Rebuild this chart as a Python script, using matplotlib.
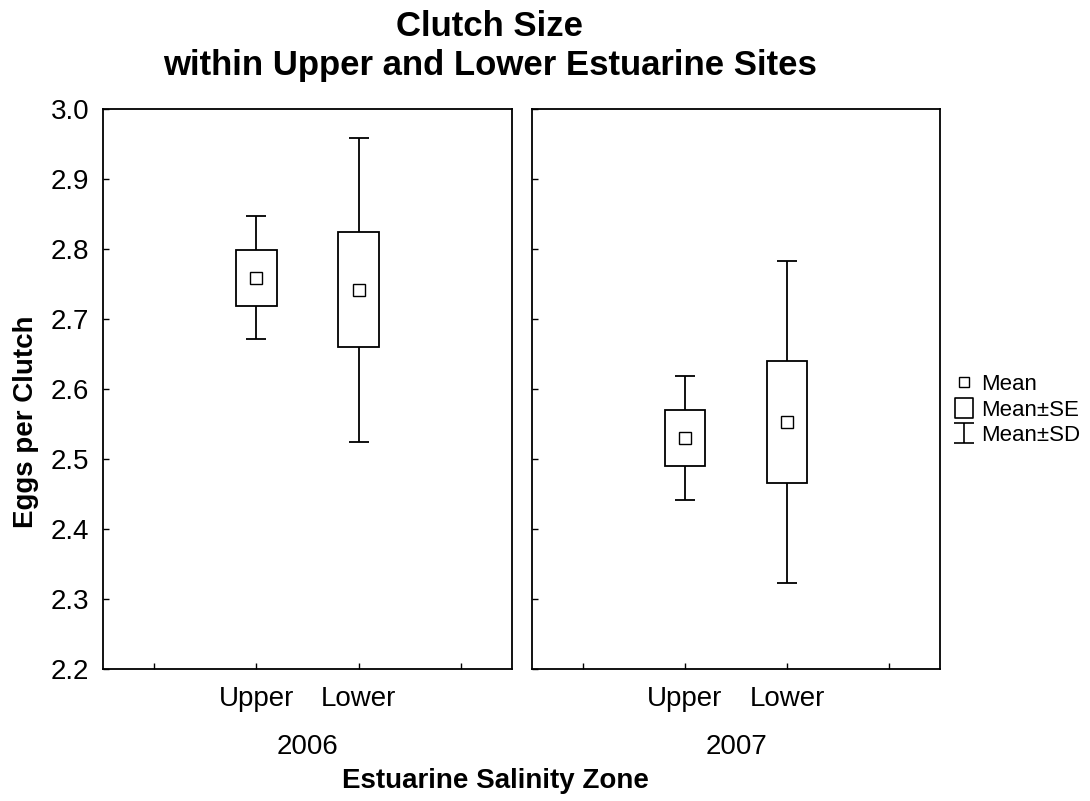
import numpy as np
import matplotlib
matplotlib.use("Agg")
import matplotlib.pyplot as plt
from matplotlib.patches import Rectangle
from matplotlib.lines import Line2D
from matplotlib.path import Path

plt.rcParams['font.family'] = ['Liberation Sans', 'DejaVu Sans']

years = ['2006', '2007']
zones = ['Upper', 'Lower']
# mean, standard error, standard deviation per year and zone
means = {'2006': [2.759, 2.742], '2007': [2.530, 2.553]}
ses = {'2006': [0.040, 0.082], '2007': [0.040, 0.087]}
sds = {'2006': [0.088, 0.217], '2007': [0.089, 0.230]}

fig = plt.figure(figsize=(10.9, 8.01), dpi=100)
ax1 = fig.add_axes([0.0945, 0.1648, 0.3752, 0.6991])
ax2 = fig.add_axes([0.4881, 0.1648, 0.3743, 0.6991], sharey=ax1)

pos = np.array([1, 2])
for ax, yr in zip([ax1, ax2], years):
    m = np.array(means[yr])
    se = np.array(ses[yr])
    sd = np.array(sds[yr])
    ax.errorbar(pos, m, yerr=sd, fmt='none', ecolor='black', elinewidth=1.3,
                capsize=7.5, capthick=1.3, zorder=1)
    for x, mm, s in zip(pos, m, se):
        ax.add_patch(Rectangle((x - 0.2, mm - s), 0.4, 2 * s, facecolor='white',
                               edgecolor='black', lw=1.3, zorder=2))
    ax.plot(pos, m, ls='', marker='s', ms=8, mfc='white', mec='black', mew=1.0, zorder=3)

    ax.set_xlim(-0.5, 3.5)
    ax.set_xticks([0, 1, 2, 3])
    ax.set_xticklabels(['', zones[0], zones[1], ''])
    ax.tick_params(direction='in', length=4, width=1, labelsize=20, pad=12)
    for sp in ax.spines.values():
        sp.set_linewidth(1.3)
    ax.text(0.5, -0.14, yr, transform=ax.transAxes, ha='center', va='center', fontsize=20)

ax1.set_ylim(2.2, 3.0)
ax1.set_yticks(np.arange(2.2, 3.01, 0.1))
ax1.set_yticklabels(['%.1f' % v for v in np.arange(2.2, 3.01, 0.1)])
ax1.tick_params(axis='y', pad=10)
ax2.tick_params(axis='y', labelleft=False)

fig.text(0.4495, 1 - 27 / 801, 'Clutch Size', ha='center', va='center',
         fontsize=25, fontweight='bold')
fig.text(0.4495, 1 - 65 / 801, 'within Upper and Lower Estuarine Sites', ha='center',
         va='center', fontsize=25, fontweight='bold')
fig.text(26 / 1090, 1 - 422 / 801, 'Eggs per Clutch', rotation=90, ha='center',
         va='center', fontsize=20, fontweight='bold')
fig.text(495 / 1090, 1 - 781 / 801, 'Estuarine Salinity Zone', ha='center', va='center',
         fontsize=20, fontweight='bold')

# legend keys: small square, box, and an I-shaped error bar
ibar = Path([(-1, 1), (1, 1), (0, 1), (0, -1), (-1, -1), (1, -1)],
            [Path.MOVETO, Path.LINETO, Path.MOVETO, Path.LINETO, Path.MOVETO, Path.LINETO])
box = Path([(-0.9, -1), (0.9, -1), (0.9, 1), (-0.9, 1), (-0.9, -1)],
           [Path.MOVETO, Path.LINETO, Path.LINETO, Path.LINETO, Path.CLOSEPOLY])
handles = [Line2D([], [], ls='', marker='s', ms=7, mfc='white', mec='black', mew=1),
           Line2D([], [], ls='', marker=box, ms=15, mfc='white', mec='black', mew=1.2),
           Line2D([], [], ls='', marker=ibar, ms=14, mfc='none', mec='black', mew=1.2)]
fig.legend(handles, ['Mean', 'Mean\u00b1SE', 'Mean\u00b1SD'], loc='center left',
           bbox_to_anchor=(942 / 1090, 1 - 410 / 801), frameon=False, fontsize=16,
           handlelength=1.0, handletextpad=0.25, labelspacing=0.2, borderpad=0)

fig.savefig('out.png', dpi=100)
